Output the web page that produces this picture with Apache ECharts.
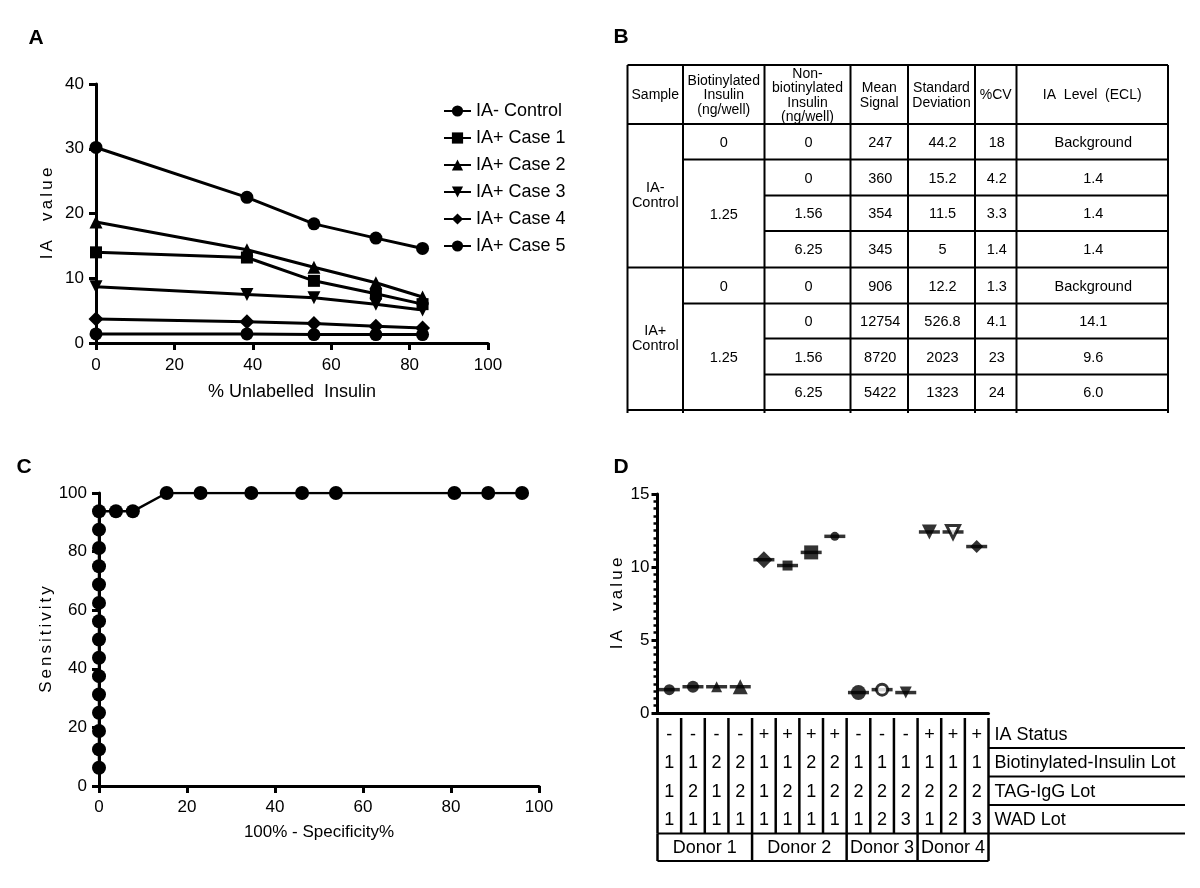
<!DOCTYPE html>
<html><head><meta charset="utf-8">
<script src="https://cdn.jsdelivr.net/npm/echarts@6/dist/echarts.min.js"></script>
<style>html,body{margin:0;padding:0;background:#fff}#c{width:1200px;height:888px}</style>
</head><body><div id="c"></div>
<script>
// ===== Panel A data =====
const pctUnlabelled = [0, 38.5, 55.6, 71.4, 83.3];
const seriesNamesA = ['IA- Control', 'IA+ Case 1', 'IA+ Case 2', 'IA+ Case 3', 'IA+ Case 4', 'IA+ Case 5'];
const iaNegControl = [1.4, 1.4, 1.3, 1.3, 1.3];
const iaPosCase1 = [14.0, 13.2, 9.6, 7.6, 6.0];
const iaPosCase2 = [18.7, 14.4, 11.7, 9.3, 7.1];
const iaPosCase3 = [8.7, 7.5, 7.0, 6.0, 5.1];
const iaPosCase4 = [3.7, 3.3, 3.0, 2.6, 2.3];
const iaPosCase5 = [30.2, 22.5, 18.4, 16.2, 14.6];

// ===== Panel B data =====
const tableHeaders = ['Sample', 'Biotinylated\nInsulin\n(ng/well)', 'Non-\nbiotinylated\nInsulin\n(ng/well)', 'Mean\nSignal', 'Standard\nDeviation', '%CV', 'IA  Level  (ECL)'];
const sampleGroups = ['IA-\nControl', 'IA+\nControl'];
const biotinylatedInsulin = ['0', '1.25', '1.25', '1.25', '0', '1.25', '1.25', '1.25'];
const nonBiotinylatedInsulin = ['0', '0', '1.56', '6.25', '0', '0', '1.56', '6.25'];
const meanSignal = ['247', '360', '354', '345', '906', '12754', '8720', '5422'];
const standardDeviation = ['44.2', '15.2', '11.5', '5', '12.2', '526.8', '2023', '1323'];
const percentCV = ['18', '4.2', '3.3', '1.4', '1.3', '4.1', '23', '24'];
const iaLevelECL = ['Background', '1.4', '1.4', '1.4', 'Background', '14.1', '9.6', '6.0'];

// ===== Panel C data =====
const rocFalsePos = [0, 0, 0, 0, 0, 0, 0, 0, 0, 0, 0, 0, 0, 0, 0, 3.85, 7.69, 15.38, 23.08, 34.62, 46.15, 53.85, 80.77, 88.46, 96.15];
const rocSensitivity = [6.25, 12.5, 18.75, 25, 31.25, 37.5, 43.75, 50, 56.25, 62.5, 68.75, 75, 81.25, 87.5, 93.75, 93.75, 93.75, 100, 100, 100, 100, 100, 100, 100, 100];

// ===== Panel D data =====
const dIAValues = [1.6, 1.8, 1.8, 1.8, 10.5, 10.1, 11.0, 12.1, 1.4, 1.6, 1.4, 12.4, 12.4, 11.4];
const iaStatus = ['-', '-', '-', '-', '+', '+', '+', '+', '-', '-', '-', '+', '+', '+'];
const biotinLot = ['1', '1', '2', '2', '1', '1', '2', '2', '1', '1', '1', '1', '1', '1'];
const tagIgGLot = ['1', '2', '1', '2', '1', '2', '1', '2', '2', '2', '2', '2', '2', '2'];
const wadLot = ['1', '1', '1', '1', '1', '1', '1', '1', '1', '2', '3', '1', '2', '3'];
const donorNames = ['Donor 1', 'Donor 2', 'Donor 3', 'Donor 4'];
const donorColumnCounts = [4, 4, 3, 3];
const dRowLabels = ['IA Status', 'Biotinylated-Insulin Lot', 'TAG-IgG Lot', 'WAD Lot'];

// ===== styles / layout =====
const FONT = "'Liberation Sans', Arial, Helvetica, sans-serif";
const DOWN = 'path://M0,0L10,0L5,9Z';
const symA = ['circle', 'rect', 'triangle', DOWN, 'diamond', 'circle'];
const symSizeA = [13, 12, 13, 13, 15, 13];
const dMarkStyle = [
  ['circle', 11], ['circle', 12], ['triangle', 11], ['triangle', 15], ['diamond', 17], ['rect', 10], ['rect', 14],
  ['circle', 9], ['circle', 15], ['open-circle', 11], [DOWN, 12], [DOWN, 15], ['open-down', 13], ['diamond', 13]
];

function spaced(str, key) {
  return str.split('').map(c => c === ' ' ? '{' + key + '| }' : '{' + key + '|' + c + '}').join('');
}

const chart = echarts.init(document.getElementById('c'), null, {renderer: 'canvas'});

const axisCommon = (extra) => Object.assign({
  type: 'value',
  axisLine: {show: true, onZero: false, lineStyle: {color: '#000', width: 3}},
  axisTick: {show: true, length: 7, lineStyle: {color: '#000', width: 3}},
  axisLabel: {color: '#000', fontSize: 17, fontFamily: FONT},
  splitLine: {show: false},
  nameLocation: 'middle',
  nameTextStyle: {color: '#000', fontSize: 17, fontFamily: FONT}
}, extra);

const aData = [iaNegControl, iaPosCase1, iaPosCase2, iaPosCase3, iaPosCase4, iaPosCase5];
const seriesA = seriesNamesA.map((n, k) => ({
  name: n, type: 'line', xAxisIndex: 0, yAxisIndex: 0,
  data: pctUnlabelled.map((x, i) => [x, aData[k][i]]),
  symbol: symA[k], symbolSize: symSizeA[k],
  lineStyle: {color: '#000', width: 3}, itemStyle: {color: '#000'}
}));

const seriesC = {
  type: 'line', xAxisIndex: 1, yAxisIndex: 1,
  data: rocFalsePos.map((x, i) => [x, rocSensitivity[i]]),
  symbol: 'circle', symbolSize: 14,
  lineStyle: {color: '#000', width: 2.5}, itemStyle: {color: '#000'}
};

const seriesDBars = {
  type: 'scatter', xAxisIndex: 2, yAxisIndex: 2,
  data: dIAValues.map((v, i) => [i + 0.5, v]),
  symbol: 'rect', symbolSize: [21, 3.5], itemStyle: {color: '#000'}, z: 3
};
const seriesDMarks = {
  type: 'scatter', xAxisIndex: 2, yAxisIndex: 2,
  data: dIAValues.map((v, i) => {
    const st = dMarkStyle[i];
    let item = {value: [i + 0.5, v], symbol: st[0], symbolSize: st[1]};
    if (st[0] === 'open-circle') { item.symbol = 'circle'; item.itemStyle = {color: '#fff', borderColor: '#000', borderWidth: 3}; }
    if (st[0] === 'open-down') { item.symbol = DOWN; item.itemStyle = {color: '#fff', borderColor: '#000', borderWidth: 3}; }
    return item;
  }),
  itemStyle: {color: '#000'}, z: 4
};

const axisNameRich = {
  l: {fontSize: 17, fontFamily: FONT, color: '#000', padding: [0, 1.6, 0, 1.6]},
  s: {fontSize: 17, fontFamily: FONT, color: '#000', padding: [0, 1.5, 0, 1.5]}
};

chart.setOption({
  animation: false,
  textStyle: {fontFamily: FONT},
  grid: [
    {left: 96, top: 84, width: 392, height: 259},
    {left: 99, top: 493, width: 440, height: 293},
    {left: 657.5, top: 494, width: 331, height: 219}
  ],
  legend: {
    data: seriesNamesA, orient: 'vertical', left: 443, top: 102,
    itemWidth: 27, itemHeight: 14, itemGap: 9, padding: 0,
    textStyle: {color: '#000', fontSize: 18, fontFamily: FONT, lineHeight: 18}
  },
  xAxis: [
    axisCommon({gridIndex: 0, min: 0, max: 100, interval: 20, name: '% Unlabelled  Insulin', nameGap: 40,
      axisLabel: {color: '#000', fontSize: 17, fontFamily: FONT, margin: 14},
      nameTextStyle: {color: '#000', fontSize: 18, fontFamily: FONT}}),
    axisCommon({gridIndex: 1, min: 0, max: 100, interval: 20, name: '100% - Specificity%', nameGap: 38,
      axisLabel: {color: '#000', fontSize: 17, fontFamily: FONT, margin: 13}}),
    axisCommon({gridIndex: 2, min: 0, max: 14, axisTick: {show: false}, axisLabel: {show: false}})
  ],
  yAxis: [
    axisCommon({gridIndex: 0, min: 0, max: 40, interval: 10, name: spaced('IA  value', 'l'), nameGap: 40,
      axisLabel: {color: '#000', fontSize: 17, fontFamily: FONT, margin: 12},
      nameTextStyle: {rich: axisNameRich}}),
    axisCommon({gridIndex: 1, min: 0, max: 100, interval: 20, name: spaced('Sensitivity', 's'), nameGap: 43,
      axisLabel: {color: '#000', fontSize: 17, fontFamily: FONT, margin: 12},
      nameTextStyle: {rich: axisNameRich}}),
    axisCommon({gridIndex: 2, min: 0, max: 15, interval: 5, name: spaced('IA  value', 'l'), nameGap: 32,
      axisTick: {show: true, length: 6, lineStyle: {color: '#000', width: 3}},
      minorTick: {show: true, splitNumber: 10, length: 4, lineStyle: {color: '#000', width: 2.5}},
      axisLabel: {color: '#000', fontSize: 17, fontFamily: FONT, margin: 8},
      nameTextStyle: {rich: axisNameRich}})
  ],
  series: seriesA.concat([seriesC, seriesDBars, seriesDMarks])
});

// ===== graphics: panel letters, table B, table D =====
const G = [];
function line(x1, y1, x2, y2, w) {
  G.push({type: 'line', silent: true, shape: {x1, y1, x2, y2}, style: {stroke: '#000', lineWidth: w || 2}});
}
function text(x, y, t, size, opt) {
  opt = opt || {};
  const align = opt.align || 'center';
  G.push({type: 'text', silent: true, style: {
    text: t, x, y, fill: '#000',
    font: (opt.bold ? 'bold ' : '') + size + 'px ' + FONT,
    lineHeight: opt.lh || size,
    align: align, verticalAlign: 'middle', textAlign: align, textVerticalAlign: 'middle'
  }});
}

// panel letters
text(36, 38, 'A', 21, {bold: true});
text(621, 37, 'B', 21, {bold: true});
text(24, 467, 'C', 21, {bold: true});
text(621, 467, 'D', 21, {bold: true});

// ---- Table B ----
const bCols = [627.5, 683, 764.5, 850.5, 908, 975, 1016.5, 1168];
const bRows = [65, 124, 159.5, 195.5, 231, 267.5, 303.5, 338.5, 374.5, 410];
const bodyCols = [null, biotinylatedInsulin, nonBiotinylatedInsulin, meanSignal, standardDeviation, percentCV, iaLevelECL];
bCols.forEach(x => line(x, bRows[0], x, bRows[bRows.length - 1] + 3, 2));
line(bCols[0], bRows[0], bCols[7], bRows[0], 2);
line(bCols[0], bRows[1], bCols[7], bRows[1], 2);
line(bCols[0], bRows[9], bCols[7], bRows[9], 2);
tableHeaders.forEach((h, c) => {
  text((bCols[c] + bCols[c + 1]) / 2, (bRows[0] + bRows[1]) / 2 + 1, h, 14, {lh: 14.5});
});
const rowsPerGroup = 4;
sampleGroups.forEach((g, gi) => {
  const r0 = 1 + gi * rowsPerGroup;
  text((bCols[0] + bCols[1]) / 2, (bRows[r0] + bRows[r0 + rowsPerGroup]) / 2, g, 14.5, {lh: 15});
  if (gi > 0) line(bCols[0], bRows[r0], bCols[7], bRows[r0], 2);
  for (let k = 0; k < rowsPerGroup; k++) {
    const ri = gi * rowsPerGroup + k;
    const yTop = bRows[r0 + k], yBot = bRows[r0 + k + 1];
    if (k < rowsPerGroup - 1) {
      const startCol = biotinylatedInsulin[ri] !== biotinylatedInsulin[ri + 1] ? 1 : 2;
      line(bCols[startCol], yBot, bCols[7], yBot, 2);
    }
    for (let c = 2; c < 7; c++) {
      text((bCols[c] + bCols[c + 1]) / 2 + 1, (yTop + yBot) / 2 + 1, bodyCols[c][ri], 14.5);
    }
  }
  // merged biotinylated cells
  let k = 0;
  while (k < rowsPerGroup) {
    let e = k;
    const ri = gi * rowsPerGroup + k;
    while (e + 1 < rowsPerGroup && biotinylatedInsulin[gi * rowsPerGroup + e + 1] === biotinylatedInsulin[ri]) e++;
    text((bCols[1] + bCols[2]) / 2, (bRows[r0 + k] + bRows[r0 + e + 1]) / 2 + 1, biotinylatedInsulin[ri], 14.5);
    k = e + 1;
  }
});

// ---- Table D (aligned to the panel D x axis) ----
const dEdges = [];
for (let i = 0; i <= dIAValues.length; i++) dEdges.push(chart.convertToPixel({xAxisIndex: 2}, i));
const dRowEdges = [720, 748, 776.5, 805, 833.5, 861];
const dTableTop = 718;
const dRight = 1185;
const dRows = [iaStatus, biotinLot, tagIgGLot, wadLot];
dEdges.forEach(x => line(x, dTableTop, x, dRowEdges[4], 2.5));
let acc = 0;
const donorBounds = [0];
donorColumnCounts.forEach(n => { acc += n; donorBounds.push(acc); });
donorBounds.forEach(b => line(dEdges[b], dRowEdges[4], dEdges[b], dRowEdges[5], 2.5));
for (let r = 1; r < 4; r++) line(dEdges[dEdges.length - 1], dRowEdges[r], dRight, dRowEdges[r], 2);
line(dEdges[0], dRowEdges[4], dRight, dRowEdges[4], 2);
line(dEdges[0], dRowEdges[5], dEdges[dEdges.length - 1], dRowEdges[5], 2);
dRows.forEach((arr, r) => {
  const yc = (dRowEdges[r] + dRowEdges[r + 1]) / 2 + 1;
  arr.forEach((v, i) => text((dEdges[i] + dEdges[i + 1]) / 2, yc, v, 18));
  text(dEdges[dEdges.length - 1] + 6, yc, dRowLabels[r], 18, {align: 'left'});
});
donorNames.forEach((d, k) => {
  text((dEdges[donorBounds[k]] + dEdges[donorBounds[k + 1]]) / 2, (dRowEdges[4] + dRowEdges[5]) / 2 + 1, d, 18);
});

chart.setOption({graphic: {elements: G}});
</script>
</body></html>
